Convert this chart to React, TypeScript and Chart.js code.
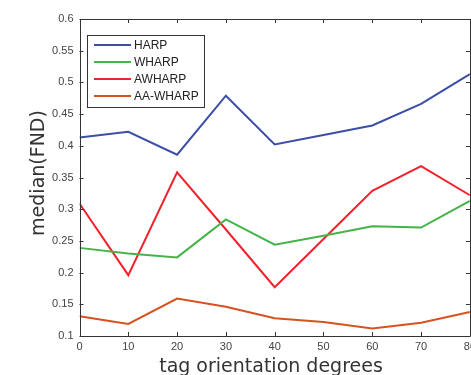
import React, { useEffect, useRef } from "react";
import { Chart, registerables } from "chart.js";

Chart.register(...registerables);

const angles = [0, 10, 20, 30, 40, 50, 60, 70, 80];
const harp = [0.413, 0.422, 0.386, 0.479, 0.402, 0.417, 0.432, 0.466, 0.513];
const wharp = [0.239, 0.23, 0.224, 0.284, 0.244, 0.258, 0.273, 0.271, 0.313];
const awharp = [0.309, 0.196, 0.358, 0.268, 0.177, 0.253, 0.329, 0.368, 0.322];
const aaWharp = [0.131, 0.119, 0.159, 0.146, 0.128, 0.122, 0.112, 0.121, 0.138];
const seriesLabels = ["HARP", "WHARP", "AWHARP", "AA-WHARP"];
const seriesColors = ["#3c4ea6", "#44b449", "#f0222c", "#d6521f"];
const xTicks = [0, 10, 20, 30, 40, 50, 60, 70, 80];
const yTicks = [0.1, 0.15, 0.2, 0.25, 0.3, 0.35, 0.4, 0.45, 0.5, 0.55, 0.6];
const yTickLabels = ["0.1", "0.15", "0.2", "0.25", "0.3", "0.35", "0.4", "0.45", "0.5", "0.55", "0.6"];
const xTitle = "tag orientation degrees";
const yTitle = "median(FND)";

const AXIS = "#333333";

const framePlugin = {
  id: "matlabFrame",
  afterDraw(chart: any) {
    const { ctx, chartArea, scales } = chart;
    const { left, right, top, bottom } = chartArea;
    ctx.save();
    ctx.strokeStyle = AXIS;
    ctx.lineWidth = 1;
    ctx.beginPath();
    ctx.rect(Math.round(left) + 0.5, Math.round(top) + 0.5, Math.round(right - left), Math.round(bottom - top));
    ctx.stroke();
    const tl = 4;
    ctx.beginPath();
    for (const v of xTicks) {
      const px = Math.round(scales.x.getPixelForValue(v)) + 0.5;
      ctx.moveTo(px, bottom);
      ctx.lineTo(px, bottom - tl);
      ctx.moveTo(px, top);
      ctx.lineTo(px, top + tl);
    }
    for (const v of yTicks) {
      const py = Math.round(scales.y.getPixelForValue(v)) + 0.5;
      ctx.moveTo(left, py);
      ctx.lineTo(left + tl, py);
      ctx.moveTo(right, py);
      ctx.lineTo(right - tl, py);
    }
    ctx.stroke();

    // legend
    const bx = 87.5, by = 35.5, bw = 117, bh = 72;
    ctx.fillStyle = "#ffffff";
    ctx.fillRect(bx, by, bw, bh);
    ctx.strokeStyle = "#333333";
    ctx.strokeRect(bx, by, bw, bh);
    ctx.font = "12px 'Liberation Sans', Arial, sans-serif";
    ctx.textBaseline = "middle";
    ctx.textAlign = "left";
    const rows = [45, 62, 79, 96];
    chart.data.datasets.forEach((ds: any, i: number) => {
      const y = rows[i];
      ctx.strokeStyle = ds.borderColor;
      ctx.lineWidth = 2;
      ctx.beginPath();
      ctx.moveTo(94, y);
      ctx.lineTo(131, y);
      ctx.stroke();
      ctx.fillStyle = "#222222";
      ctx.fillText(ds.label, 134, y + 0.5);
    });

    // axis titles
    ctx.fillStyle = "#333333";
    ctx.font = "19px 'DejaVu Sans', sans-serif";
    ctx.textAlign = "center";
    ctx.textBaseline = "alphabetic";
    ctx.fillText(xTitle, 271, 372);
    ctx.translate(44, 173);
    ctx.rotate(-Math.PI / 2);
    ctx.fillText(yTitle, 0, 0);
    ctx.restore();
  },
};

export default function App() {
  const ref = useRef<HTMLCanvasElement | null>(null);
  useEffect(() => {
    if (!ref.current) return;
    const data = [harp, wharp, awharp, aaWharp];
    const chart = new Chart(ref.current, {
      type: "line",
      data: {
        datasets: data.map((arr, i) => ({
          label: seriesLabels[i],
          data: arr.map((v, j) => ({ x: angles[j], y: v })),
          borderColor: seriesColors[i],
          backgroundColor: seriesColors[i],
          borderWidth: 2,
          pointRadius: 0,
          tension: 0,
          fill: false,
        })),
      },
      options: {
        animation: false,
        responsive: false,
        devicePixelRatio: 1,
        layout: { padding: { top: 19, right: 6.5, left: 0, bottom: 0 } },
        plugins: { legend: { display: false }, tooltip: { enabled: false }, title: { display: false } },
        scales: {
          x: {
            type: "linear",
            min: 0,
            max: 80,
            grid: { display: false, drawTicks: false },
            border: { display: false },
            afterFit: (s: any) => { s.height = 39; },
            afterBuildTicks: (s: any) => { s.ticks = xTicks.map((v) => ({ value: v })); },
            ticks: {
              padding: 4,
              color: "#444444",
              font: { family: "'Liberation Sans', Arial, sans-serif", size: 11 },
              maxRotation: 0,
              callback: (v: any) => String(v),
            },
          },
          y: {
            type: "linear",
            min: 0.1,
            max: 0.6,
            grid: { display: false, drawTicks: false },
            border: { display: false },
            afterFit: (s: any) => { s.width = 79.5; },
            afterBuildTicks: (s: any) => { s.ticks = yTicks.map((v) => ({ value: v })); },
            ticks: {
              padding: 6,
              color: "#444444",
              font: { family: "'Liberation Sans', Arial, sans-serif", size: 11 },
              callback: (v: any) => {
                const idx = yTicks.findIndex((t) => Math.abs(t - Number(v)) < 1e-9);
                return idx >= 0 ? yTickLabels[idx] : "";
              },
            },
          },
        },
      },
      plugins: [framePlugin],
    } as any);
    return () => chart.destroy();
  }, []);
  return (
    <div style={{ position: "fixed", left: 0, top: 0, width: 471, height: 375, overflow: "hidden", background: "#fff" }}>
      <canvas ref={ref} width={480} height={375} style={{ width: 480, height: 375, display: "block" }} />
    </div>
  );
}
